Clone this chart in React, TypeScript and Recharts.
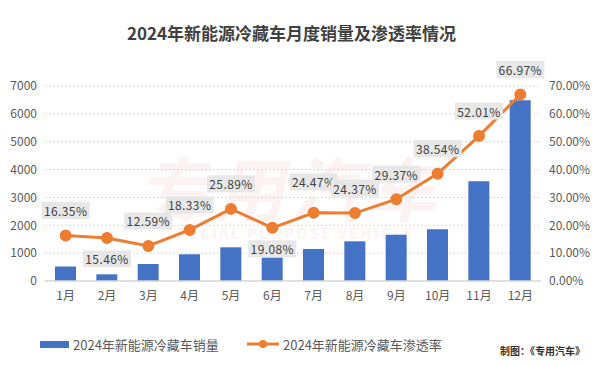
// 2024年新能源冷藏车月度销量及渗透率 — 柱线组合图（双轴）
import {
  Bar,
  CartesianGrid,
  ComposedChart,
  LabelList,
  Line,
  XAxis,
  YAxis,
} from "recharts";

const MONTHS = ["1月", "2月", "3月", "4月", "5月", "6月", "7月", "8月", "9月", "10月", "11月", "12月"];
// 销量（辆）
const SALES = [520, 240, 610, 960, 1210, 840, 1150, 1425, 1660, 1855, 3580, 6485];
// 渗透率（%），图上标注值
const RATE = [16.35, 15.46, 12.59, 18.33, 25.89, 19.08, 24.47, 24.37, 29.37, 38.54, 52.01, 66.97];
const SALES_TICKS = [0, 1000, 2000, 3000, 4000, 5000, 6000, 7000];
const RATE_TICKS = [0, 10, 20, 30, 40, 50, 60, 70];
// 标签放在点下方的月份 / 需要再抬高一点的月份（避免重叠）
const LABEL_BELOW = ["2月", "6月"];
const LABEL_RAISED = ["7月"];

const data = MONTHS.map((m, i) => ({ month: m, sales: SALES[i], rate: RATE[i] }));

const FONT = '"Noto Sans CJK SC", "Noto Sans", sans-serif';
const BLUE = "#4472c4";
const ORANGE = "#ed7d31";
const TEXT = "#595959";
const GRID = "#d9d9d9";

function RateLabel(props: any) {
  const { x, y, value, index } = props;
  const m = MONTHS[index];
  let cy = y - 25;
  if (LABEL_BELOW.includes(m)) cy = y + 21;
  if (LABEL_RAISED.includes(m)) cy = y - 31;
  const w = 48;
  const h = 17;
  return (
    <g>
      <rect x={x - w / 2} y={cy - h / 2} width={w} height={h} fill="#e7e7e7" />
      <text
        x={x}
        y={cy}
        textAnchor="middle"
        dominantBaseline="central"
        fontSize={12}
        letterSpacing={0.4}
        fill="#404040"
        fontFamily={FONT}
      >
        {`${Number(value).toFixed(2)}%`}
      </text>
    </g>
  );
}

export default function App() {
  return (
    <div style={{ position: "relative", width: 600, height: 365, background: "#fff", fontFamily: FONT }}>
      <style>{"body{margin:0}"}</style>
      {/* 水印（很淡） */}
      <div
        style={{
          position: "absolute",
          left: 110,
          top: 150,
          width: 360,
          textAlign: "center",
          color: "#f3c9c9",
          opacity: 0.22,
          pointerEvents: "none",
        }}
      >
        <div style={{ fontSize: 70, fontWeight: 700, fontStyle: "italic", lineHeight: "72px", letterSpacing: 6 }}>专用汽车</div>
        <div style={{ fontSize: 15, fontWeight: 700, letterSpacing: 2 }}>SPECIAL PURPOSE VEHICLE</div>
      </div>
      <div
        style={{
          position: "absolute",
          top: 22,
          left: 0,
          width: 583,
          textAlign: "center",
          fontSize: 17,
          fontWeight: 700,
          color: "#404040",
          lineHeight: "22px",
        }}
      >
        2024年新能源冷藏车月度销量及渗透率情况
      </div>
      <ComposedChart
        width={600}
        height={365}
        data={data}
        margin={{ top: 86, right: 0, bottom: 54, left: 0 }}
        style={{ fontFamily: FONT }}
      >
        <CartesianGrid vertical={false} stroke={GRID} strokeDasharray="2 2" yAxisId="left" />
        <XAxis
          dataKey="month"
          tick={{ fill: TEXT, fontSize: 12, dy: 2 }}
          tickLine={false}
          axisLine={{ stroke: GRID, strokeWidth: 1.5 }}
          height={30}
          interval={0}
        />
        <YAxis
          yAxisId="left"
          domain={[0, 7000]}
          ticks={SALES_TICKS}
          tick={{ fill: TEXT, fontSize: 12 }}
          tickLine={false}
          axisLine={false}
          width={45}
        />
        <YAxis
          yAxisId="right"
          orientation="right"
          domain={[0, 70]}
          ticks={RATE_TICKS}
          tick={{ fill: TEXT, fontSize: 12 }}
          tickFormatter={(v: number) => `${v.toFixed(2)}%`}
          tickLine={false}
          axisLine={false}
          width={59}
        />
        <Bar yAxisId="left" dataKey="sales" fill={BLUE} barSize={21} isAnimationActive={false} />
        <Line
          yAxisId="right"
          dataKey="rate"
          stroke={ORANGE}
          strokeWidth={3}
          dot={{ r: 4.5, fill: ORANGE, stroke: ORANGE }}
          isAnimationActive={false}
        >
          <LabelList dataKey="rate" content={<RateLabel />} />
        </Line>
      </ComposedChart>
      {/* 图例 */}
      <div style={{ position: "absolute", left: 40, top: 336, height: 16, display: "flex", alignItems: "center", fontSize: 13, color: TEXT }}>
        <span style={{ display: "inline-block", width: 29, height: 7, background: BLUE, marginRight: 4 }} />
        <span>2024年新能源冷藏车销量</span>
      </div>
      <div style={{ position: "absolute", left: 247, top: 336, height: 16, display: "flex", alignItems: "center", fontSize: 13, color: TEXT }}>
        <svg width={32} height={10} style={{ marginRight: 4 }}>
          <line x1={0} y1={5} x2={32} y2={5} stroke={ORANGE} strokeWidth={3} />
          <circle cx={16} cy={5} r={4} fill={ORANGE} />
        </svg>
        <span>2024年新能源冷藏车渗透率</span>
      </div>
      <div style={{ position: "absolute", left: 500, top: 343, fontSize: 10, fontWeight: 700, color: "#333", fontFamily: '"Noto Sans CJK SC", serif' }}>
        制图：《专用汽车》
      </div>
    </div>
  );
}
